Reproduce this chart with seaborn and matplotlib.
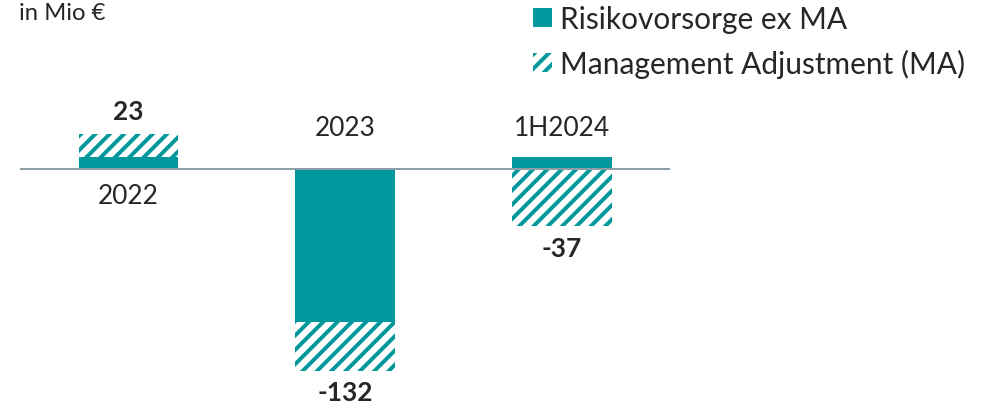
import numpy as np
import pandas as pd
import seaborn as sns
import matplotlib.pyplot as plt
from matplotlib.patches import Patch

# values (in Mio €)
periods = ["2022", "2023", "1H2024"]
risk_ex_ma = [8, -100, 8]
mgmt_adj = [15, -32, -37]
total_labels = ["23", "-132", "-37"]

TEAL = "#00989D"
AXIS_GREY = "#8E9EA6"
DPI = 86

sns.set_style("white")
plt.rcParams["font.family"] = ["Lato", "DejaVu Sans"]
plt.rcParams["hatch.linewidth"] = 3.3


def build_frame():
    df = pd.DataFrame({"period": periods, "risk": risk_ex_ma, "ma": mgmt_adj})
    # hatched bar is drawn to the end of the stack, solid part painted over it
    same_sign = np.sign(df["risk"]) == np.sign(df["ma"])
    df["stack"] = np.where(same_sign, df["risk"] + df["ma"], df["ma"])
    return df


def draw_chart(df):
    fig = plt.figure(figsize=(984 / DPI, 409 / DPI), dpi=DPI, facecolor="white")
    ax = fig.add_axes([20 / 984, 0, 650 / 984, 1])

    sns.barplot(data=df, x="period", y="stack", color="white", saturation=1,
                width=0.46, errorbar=None, linewidth=0, ax=ax)
    for p in ax.patches:
        p.set_hatch("//")
        p.set_edgecolor(TEAL)
        p.set_linewidth(0)

    sns.barplot(data=df, x="period", y="risk", color=TEAL, saturation=1,
                width=0.46, errorbar=None, linewidth=0, ax=ax)

    ax.axhline(0, color=AXIS_GREY, lw=1.7, zorder=5)
    ax.set_xlim(-0.5, 2.5)
    ax.set_ylim(-156.6, 111.9)
    ax.axis("off")

    # value labels at the end of each stack, period labels on the other side
    for i, (period, lab) in enumerate(zip(periods, total_labels)):
        end = df["stack"][i]
        if end >= 0:
            ax.annotate(lab, (i, end), xytext=(0, 13), textcoords="offset points",
                        ha="center", va="baseline", fontsize=22, fontweight="bold")
            ax.annotate(period, (i, 0), xytext=(0, -28.5), textcoords="offset points",
                        ha="center", va="baseline", fontsize=22)
        else:
            ax.annotate(lab, (i, end), xytext=(0, -25), textcoords="offset points",
                        ha="center", va="baseline", fontsize=22, fontweight="bold")
            ax.annotate(period, (i, 0), xytext=(0, 29), textcoords="offset points",
                        ha="center", va="baseline", fontsize=22)

    fig.text(19 / 984, 1 - 19.5 / 409, "in Mio €", fontsize=20, va="baseline", ha="left")

    handles = [
        Patch(facecolor=TEAL, lw=0, label="Risikovorsorge ex MA"),
        Patch(facecolor="white", edgecolor=TEAL, hatch="//", lw=0,
              label="Management Adjustment (MA)"),
    ]
    fig.legend(handles=handles, loc="upper left",
               bbox_to_anchor=(533 / 984, 1 - 6 / 409), frameon=False,
               fontsize=25, handlelength=0.64, handleheight=0.6,
               handletextpad=0.27, labelspacing=0.52, borderpad=0, borderaxespad=0)

    fig.savefig("out.png", dpi=DPI, facecolor="white")


draw_chart(build_frame())
